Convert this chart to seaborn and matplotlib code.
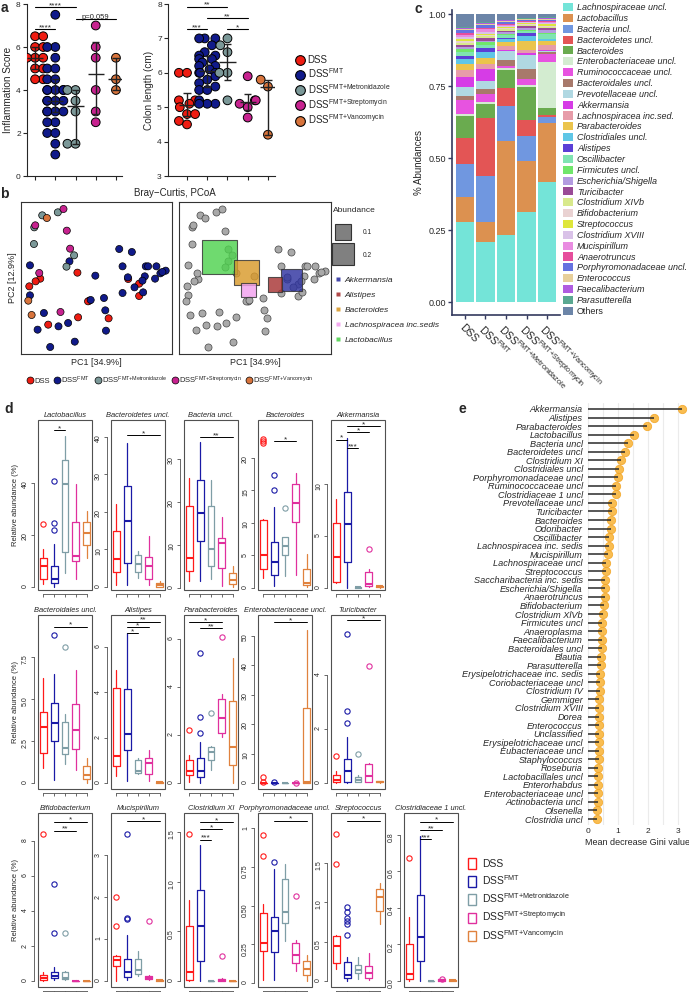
import warnings
import numpy as np
import pandas as pd
import seaborn as sns
import matplotlib.pyplot as plt
from matplotlib.lines import Line2D
from matplotlib.patches import Patch, Rectangle

warnings.filterwarnings('ignore')

# ---------------- data ----------------
group_keys = ['DSS', 'FMT', 'Metro', 'Strep', 'Vanco']
group_labels = ['DSS', r'DSS$^{\mathrm{FMT}}$', r'DSS$^{\mathrm{FMT{+}Metronidazole}}$',
                r'DSS$^{\mathrm{FMT{+}Streptomycin}}$', r'DSS$^{\mathrm{FMT{+}Vancomycin}}$']
col_a = ['#ee1c12', '#101a8a', '#7b9898', '#c7228f', '#d8743c']
col_d = ['#ff1a1a', '#1a1aa6', '#7f9ea6', '#e0309e', '#e0823e']

# panel a
infl_dss = [6.5, 6.5, 6.0, 6.0, 5.5, 5.5, 5.5, 5.0, 5.0, 4.5, 4.5]
infl_fmt = [7.5, 6.0, 6.0, 5.5, 5.0, 5.0, 4.5, 4.5, 4.0, 4.0, 4.0, 4.0, 4.0, 3.5, 3.5, 3.5,
            3.5, 3.0, 3.0, 3.0, 3.0, 2.5, 2.5, 2.0, 2.0, 1.5, 1.0]
infl_metro = [4.0, 4.0, 3.5, 3.0, 1.5, 1.5]
infl_strep = [7.0, 6.0, 5.5, 4.0, 3.0, 2.5]
infl_vanco = [5.5, 4.5, 4.0]

colon_dss = [6.0, 6.0, 5.2, 5.2, 5.1, 5.0, 4.8, 4.8, 4.6, 4.5]
colon_fmt = [7.0, 7.0, 7.0, 6.8, 6.6, 6.5, 6.5, 6.4, 6.4, 6.3, 6.2, 6.2, 6.1, 6.0, 6.0, 6.0,
             5.9, 5.8, 5.7, 5.6, 5.5, 5.5, 5.2, 5.1, 5.1, 5.1]
colon_metro = [7.0, 6.8, 6.6, 6.0, 6.0, 5.2]
colon_strep = [5.9, 5.2, 5.2, 5.1, 5.0, 4.7]
colon_vanco = [5.8, 5.6, 4.2]

# panel b (PCoA coordinates)
pc_dss = [(-0.058, 0.016), (-0.170, -0.002), (-0.184, -0.010), (-0.203, -0.025), (-0.022, -0.068),
          (-0.026, -0.070), (0.036, -0.121), (-0.056, -0.118), (-0.146, -0.140), (0.128, -0.017),
          (0.095, -0.003), (0.128, -0.054)]
pc_fmt = [(-0.201, 0.038), (-0.201, -0.052), (-0.082, 0.050), (-0.004, 0.007), (0.068, 0.087),
          (0.106, 0.078), (0.078, 0.035), (0.148, 0.035), (0.155, 0.035), (0.180, 0.035),
          (0.208, 0.022), (0.192, 0.014), (0.176, -0.002), (0.145, 0.005), (0.138, -0.008),
          (0.114, -0.028), (0.140, -0.043), (0.078, -0.045), (0.022, -0.060), (-0.018, -0.066),
          (0.026, -0.097), (0.028, -0.158), (-0.086, -0.135), (-0.115, -0.145), (-0.178, -0.155),
          (-0.159, -0.105), (-0.140, -0.207), (-0.066, -0.191), (0.198, 0.018), (0.094, 0.002)]
pc_metro = [(-0.164, 0.188), (-0.117, 0.197), (-0.188, 0.152), (-0.189, 0.102), (-0.068, 0.068),
            (-0.091, 0.034)]
pc_strep = [(-0.100, 0.207), (-0.185, 0.158), (-0.090, 0.142), (-0.080, 0.088), (-0.173, 0.015),
            (-0.109, -0.102)]
pc_vanco = [(-0.150, 0.180), (-0.206, -0.068), (-0.196, -0.111)]

genus_names = ['Lactobacillus', 'Bacteroides', 'Akkermansia', 'Alistipes', 'Lachnospiracea inc.sedis']
genus_pc1 = [-0.107, -0.026, 0.108, 0.059, -0.020]
genus_pc2 = [0.062, 0.016, -0.006, -0.020, -0.037]
genus_abund = [0.52, 0.29, 0.20, 0.095, 0.09]
genus_colors = ['#4fd24f', '#d99a2b', '#2f33a0', '#a83434', '#f2a0ee']
legend_genus = ['Akkermansia', 'Alistipes', 'Bacteroides', 'Lachnospiracea inc.sedis', 'Lactobacillus']

# panel c (relative abundances, DSS / FMT / Metro / Strep / Vanco)
taxa = ['Lachnospiraceae uncl.', 'Lactobacillus', 'Bacteria uncl.', 'Bacteroidetes uncl.', 'Bacteroides',
        'Enterobacteriaceae uncl.', 'Ruminococcaceae uncl.', 'Bacteroidales uncl.', 'Prevotellaceae uncl.',
        'Akkermansia', 'Lachnospiracea inc.sed.', 'Parabacteroides', 'Clostridiales uncl.', 'Alistipes',
        'Oscillibacter', 'Firmicutes uncl.', 'Escherichia/Shigella', 'Turicibacter', 'Clostridium XIVb',
        'Bifidobacterium', 'Streptococcus', 'Clostridium XVIII', 'Mucispirillum', 'Anaerotruncus',
        'Porphyromonadaceae uncl.', 'Enterococcus', 'Faecalibacterium', 'Parasutterella', 'Others']
taxa_colors = ['#74e4d8', '#dc9150', '#7097e0', '#e35555', '#6aab4f', '#d3ecd0', '#e753e0', '#a8796b',
               '#b0d8e2', '#d63ce6', '#e79ca9', '#ebc44c', '#5fc6e6', '#5b3fd6', '#7fe4b2', '#70e66b',
               '#b39be0', '#9a4b96', '#d8e98c', '#e9d2d2', '#dee63c', '#d9c2e8', '#e98ce1', '#e64e9c',
               '#6672e0', '#e7cf9a', '#b05ce0', '#5aa891', '#6c85a8']
abund = [
    [0.278, 0.208, 0.233, 0.314, 0.418],
    [0.087, 0.070, 0.325, 0.174, 0.202],
    [0.115, 0.160, 0.122, 0.088, 0.023],
    [0.090, 0.200, 0.064, 0.056, 0.006],
    [0.075, 0.050, 0.062, 0.115, 0.023],
    [0.008, 0.005, 0.005, 0.006, 0.162],
    [0.050, 0.030, 0.010, 0.023, 0.028],
    [0.012, 0.015, 0.020, 0.034, 0.005],
    [0.030, 0.030, 0.030, 0.047, 0.005],
    [0.035, 0.040, 0.005, 0.008, 0.002],
    [0.025, 0.020, 0.012, 0.010, 0.020],
    [0.020, 0.020, 0.015, 0.030, 0.013],
    [0.020, 0.020, 0.010, 0.020, 0.005],
    [0.010, 0.015, 0.005, 0.008, 0.003],
    [0.012, 0.010, 0.008, 0.008, 0.015],
    [0.010, 0.010, 0.006, 0.005, 0.005],
    [0.008, 0.005, 0.005, 0.005, 0.010],
    [0.006, 0.008, 0.005, 0.006, 0.005],
    [0.008, 0.006, 0.005, 0.004, 0.005],
    [0.006, 0.005, 0.005, 0.003, 0.003],
    [0.008, 0.005, 0.004, 0.004, 0.008],
    [0.006, 0.005, 0.004, 0.003, 0.003],
    [0.008, 0.010, 0.003, 0.003, 0.003],
    [0.008, 0.006, 0.004, 0.003, 0.003],
    [0.008, 0.010, 0.005, 0.003, 0.003],
    [0.004, 0.003, 0.003, 0.002, 0.006],
    [0.004, 0.004, 0.003, 0.002, 0.002],
    [0.004, 0.004, 0.003, 0.002, 0.002],
    [0.045, 0.026, 0.019, 0.014, 0.012],
]

# panel d: five-number summaries [whislo, q1, med, q3, whishi] per group and outliers
lactobacillus = [[1, 3, 8, 11, 14.5], [0, 1.5, 3, 8, 16.5], [5.5, 13.5, 39.5, 48.5, 58],
                 [3, 10, 12, 25, 39.5], [11, 16, 20.5, 25, 29]]
lactobacillus_out = [[24], [40.5, 24.5, 22], [], [], []]
bacteroidetes_uncl = [[0.5, 4, 7.5, 15, 22], [0.5, 6.5, 17.5, 27, 38.5], [2.5, 4, 6, 8.5, 9.5],
                      [0.5, 2, 5.5, 8, 13.5], [0, 0.1, 0.4, 1.0, 1.5]]
bacteroidetes_uncl_out = [[], [], [], [], []]
bacteria_uncl = [[1.5, 4, 7, 19, 25.5], [1.5, 11, 17.5, 25, 34], [2, 5, 9, 19, 25],
                 [0.5, 4.5, 10.5, 11.5, 16.5], [0.3, 1, 1.8, 3.5, 5]]
bacteria_uncl_out = [[], [], [], [], []]
bacteroides = [[1.5, 3, 5, 10.5, 10.6], [0.3, 2, 4, 7, 12.5], [1.8, 5, 6.5, 7.8, 7.9],
               [2, 10.2, 13, 16, 17.6], [0.2, 0.5, 0.8, 3, 5.2]]
bacteroides_out = [[22.3, 22.6, 22.9], [17.4, 15.0], [12.3], [], []]
akkermansia = [[0.5, 0.6, 3, 6.3, 8.6], [0, 2.5, 6.2, 9.3, 14.5], [0, 0, 0.05, 0.1, 0.1],
               [0.05, 0.2, 0.4, 1.5, 1.8], [0, 0.1, 0.15, 0.2, 0.25]]
akkermansia_out = [[], [], [], [3.8], []]
bacteroidales_uncl = [[0.9, 1.8, 3.35, 4.25, 6.25], [0.2, 2.5, 3.55, 4.75, 6.5], [1.1, 1.7, 2.1, 3.6, 4.1],
                      [0.8, 2.0, 3.15, 4.7, 6.7], [0, 0.25, 0.5, 1.0, 1.5]]
bacteroidales_uncl_out = [[], [8.8], [8.1], [], []]
alistipes = [[0.3, 0.75, 1.2, 4.2, 5.0], [0.1, 1.45, 2.15, 4.15, 6.6], [0.4, 0.45, 0.55, 1.0, 1.1],
             [0.1, 0.4, 0.9, 1.1, 1.45], [0, 0.02, 0.04, 0.06, 0.08]]
alistipes_out = [[], [], [], [], []]
parabacteroides = [[0.05, 0.35, 0.5, 0.95, 1.15], [0, 0.25, 0.5, 1.05, 1.7], [0.55, 0.95, 1.3, 1.5, 1.55],
                   [1.9, 2.1, 2.7, 3.5, 3.7], [0, 0.75, 1.5, 3.4, 5.2]]
parabacteroides_out = [[2.2], [5.4, 2.75, 2.1], [2.9], [6.1], []]
enterobacteriaceae_uncl = [[0, 0, 0, 0, 0], [0, 0, 0, 0, 0], [0, 0, 0, 0, 0], [0, 0, 0, 0, 0],
                           [0, 0.05, 0.3, 25.3, 52]]
enterobacteriaceae_uncl_out = [[2.0, 0.4], [0.3], [], [0.2], []]
turicibacter = [[0, 0.05, 0.1, 0.3, 0.45], [0, 0.05, 0.44, 0.9, 1.7], [0.02, 0.05, 0.12, 0.22, 0.3],
                [0.04, 0.05, 0.26, 0.7, 0.75], [0, 0.02, 0.04, 0.06, 0.08]]
turicibacter_out = [[1.0], [5.5, 2.65, 2.2], [1.07], [4.3], []]
bifidobacterium = [[0, 0.05, 0.15, 0.35, 0.5], [0.05, 0.15, 0.3, 0.5, 0.8], [0.05, 0.1, 0.2, 0.5, 0.6],
                   [0, 0, 0, 0.02, 0.05], [0, 0, 0, 0.01, 0.02]]
bifidobacterium_out = [[8.4], [5.55, 2.75], [2.75], [], []]
mucispirillum = [[0, 0.35, 0.5, 0.6, 0.62], [0.02, 0.1, 0.22, 0.52, 1.1], [0.12, 0.18, 0.26, 0.52, 0.72],
                 [0.03, 0.05, 0.07, 0.12, 0.14], [0, 0.01, 0.02, 0.03, 0.04]]
mucispirillum_out = [[2.0, 1.3], [3.5, 1.5, 1.47], [], [1.43], []]
clostridium_xi = [[0, 0.01, 0.09, 0.55, 0.82], [0, 0.2, 0.55, 0.92, 1.37], [0, 0, 0, 0, 0],
                  [0, 0.005, 0.01, 0.02, 0.03], [0, 0, 0.003, 0.005, 0.006]]
clostridium_xi_out = [[1.48], [], [], [0.25], []]
porphyromonadaceae_uncl = [[0.02, 0.21, 0.26, 0.45, 0.51], [0.02, 0.2, 0.335, 0.43, 0.74],
                           [0.27, 0.39, 0.46, 0.67, 0.77], [0.08, 0.13, 0.18, 0.26, 0.28],
                           [0.01, 0.05, 0.09, 0.14, 0.18]]
porphyromonadaceae_uncl_out = [[0.96, 0.82], [0.78], [], [0.56], []]
streptococcus = [[0.15, 0.23, 0.45, 0.57, 0.58], [0, 0.04, 0.08, 0.24, 0.3], [0.03, 0.1, 0.14, 0.2, 0.3],
                 [0.01, 0.04, 0.1, 0.19, 0.35], [0.72, 0.89, 1.06, 1.17, 1.24]]
streptococcus_out = [[1.86, 1.48], [0.94, 0.88, 0.8, 0.76, 0.72, 0.58], [], [], []]
clostridiaceae_1_uncl = [[0, 0.01, 0.04, 0.2, 0.35], [0, 0.11, 0.24, 0.47, 0.79], [0, 0, 0, 0, 0],
                         [0, 0.002, 0.005, 0.01, 0.012], [0, 0.002, 0.004, 0.006, 0.007]]
clostridiaceae_1_uncl_out = [[0.67], [], [], [0.012], []]

# significance bars: (group from, group to, height, label)
lactobacillus_sig = [(2, 3, 60, '*')]
bacteroidetes_uncl_sig = [(2, 5, 40.5, '*')]
bacteria_uncl_sig = [(2, 5, 35, '**')]
bacteroides_sig = [(2, 4, 22.5, '*')]
akkermansia_sig = [(2, 5, 15.6, '*'), (2, 4, 15.0, '*'), (1, 2, 14.3, '*'), (2, 3, 13.5, '***')]
bacteroidales_uncl_sig = [(2, 5, 9.3, '*')]
alistipes_sig = [(2, 5, 7.1, '**'), (2, 4, 6.85, '*'), (2, 3, 6.6, '*')]
parabacteroides_sig = [(1, 4, 6.7, '*'), (2, 4, 6.45, '**')]
enterobacteriaceae_uncl_sig = [(2, 5, 54.5, '*')]
turicibacter_sig = [(2, 5, 6.0, '*')]
bifidobacterium_sig = [(2, 5, 9.1, '*'), (2, 4, 8.6, '**')]
mucispirillum_sig = [(2, 5, 3.8, '*')]
clostridium_xi_sig = [(2, 5, 1.6, '*'), (2, 4, 1.53, '*'), (2, 3, 1.42, '***')]
porphyromonadaceae_uncl_sig = [(2, 5, 1.05, '*')]
streptococcus_sig = [(2, 5, 2.03, '*')]
clostridiaceae_1_uncl_sig = [(2, 5, 0.87, '*'), (2, 4, 0.825, '**'), (2, 3, 0.775, '***')]

# panel e
gini_taxa = ['Akkermansia', 'Alistipes', 'Parabacteroides', 'Lactobacillus', 'Bacteria uncl',
             'Bacteroidetes uncl', 'Clostridium XI', 'Clostridiales uncl', 'Porphyromonadaceae uncl',
             'Ruminococcaceae uncl', 'Clostridiaceae 1 uncl', 'Prevotellaceae uncl', 'Turicibacter',
             'Bacteroides', 'Odoribacter', 'Oscillibacter', 'Lachnospiracea inc. sedis', 'Mucispirillum',
             'Lachnospiraceae uncl', 'Streptococcus', 'Saccharibacteria inc. sedis', 'Escherichia/Shigella',
             'Anaerotruncus', 'Bifidobacterium', 'Clostridium XlVb', 'Firmicutes uncl', 'Anaeroplasma',
             'Faecalibacterium', 'Bacteroidales uncl', 'Blautia', 'Parasutterella',
             'Erysipelotrichaceae inc. sedis', 'Coriobacteriaceae uncl', 'Clostridium IV', 'Gemmiger',
             'Clostridium XVIII', 'Dorea', 'Enterococcus', 'Unclassified', 'Erysipelotrichaceae uncl',
             'Eubacteriaceae uncl', 'Staphylococcus', 'Roseburia', 'Lactobacillales uncl', 'Enterorhabdus',
             'Enterobacteriaceae uncl', 'Actinobacteria uncl', 'Olsenella', 'Clostridia uncl']
gini = [3.13, 2.2, 1.97, 1.53, 1.34, 1.23, 1.09, 1.04, 1.0, 0.94, 0.92, 0.8, 0.79, 0.78, 0.77, 0.7,
        0.69, 0.68, 0.61, 0.6, 0.57, 0.56, 0.55, 0.53, 0.5, 0.48, 0.47, 0.45, 0.45, 0.44, 0.42, 0.41,
        0.4, 0.4, 0.38, 0.38, 0.37, 0.37, 0.36, 0.36, 0.35, 0.35, 0.34, 0.34, 0.33, 0.32, 0.32, 0.31, 0.3]

# ---------------- figure ----------------
sns.set_theme(style='white')
plt.rcParams['font.family'] = ['Liberation Sans', 'DejaVu Sans']
plt.rcParams['mathtext.fontset'] = 'custom'
plt.rcParams['mathtext.rm'] = 'Liberation Sans'
plt.rcParams['mathtext.it'] = 'Liberation Sans:italic'
plt.rcParams['axes.linewidth'] = 0.8

W, H = 689, 992
fig = plt.figure(figsize=(W / 100, H / 100), dpi=100)


def px_axes(x0, y0, x1, y1):
    return fig.add_axes([x0 / W, 1 - y1 / H, (x1 - x0) / W, (y1 - y0) / H])


def fx(x):
    return x / W


def fy(y):
    return 1 - y / H


def sig_bar(ax, x1, x2, y, text, fs, lw=0.8):
    ax.plot([x1, x2], [y, y], color='black', lw=lw, clip_on=False, zorder=5)
    ax.text((x1 + x2) / 2, y, text, ha='center', va='baseline', fontsize=fs, clip_on=False, zorder=5)


# ---- panel a ----
def dot_panel(ax, values, ylim, yticks, ylabel):
    df = pd.DataFrame({'group': [g for g, v in zip(group_keys, values) for _ in v],
                       'value': [x for v in values for x in v]})
    sns.swarmplot(data=df, x='group', y='value', hue='group', order=group_keys, hue_order=group_keys,
                  palette=col_a, size=6.3, edgecolor='black', linewidth=0.7, legend=False, ax=ax)
    for i, v in enumerate(values):
        med = np.median(v)
        q1, q3 = np.quantile(v, [0.25, 0.75], method='weibull')
        ax.hlines(med, i - 0.4, i + 0.4, color='#222222', lw=1.0, zorder=6)
        ax.vlines(i, q1, q3, color='#222222', lw=1.0, zorder=6)
        ax.hlines([q1, q3], i - 0.18, i + 0.18, color='#222222', lw=1.0, zorder=6)
    ax.set_ylim(*ylim)
    ax.set_yticks(yticks)
    ax.set_xticks(range(5))
    ax.set_xticklabels([])
    ax.set_xlabel('')
    ax.set_ylabel(ylabel, fontsize=7.2, labelpad=2)
    ax.tick_params(axis='both', direction='out', length=3, width=0.8, labelsize=6, pad=1.5,
                   left=True, bottom=True)
    sns.despine(ax=ax)


ax_a1 = px_axes(27, 4, 122, 176)
dot_panel(ax_a1, [infl_dss, infl_fmt, infl_metro, infl_strep, infl_vanco], (0, 8), range(0, 9, 2),
          'Inflammation Score')
ax_a1.set_xlim(-0.4, 4.3)
sig_bar(ax_a1, 0, 2, 7.86, '****', 6)
sig_bar(ax_a1, 0, 1, 6.84, '****', 6)
sig_bar(ax_a1, 2, 4, 7.3, 'p=0.059', 5.5)

ax_a2 = px_axes(168, 4, 275, 176)
dot_panel(ax_a2, [colon_dss, colon_fmt, colon_metro, colon_strep, colon_vanco], (3, 8), range(3, 9),
          'Colon length (cm)')
ax_a2.set_xlim(-0.94, 4.35)
sig_bar(ax_a2, 0, 2, 7.92, '**', 6)
sig_bar(ax_a2, 0, 1, 7.27, '***', 6)
sig_bar(ax_a2, 1, 3, 7.59, '**', 6)
sig_bar(ax_a2, 2, 3, 7.27, '*', 6)

handles_a = [Line2D([], [], ls='', marker='o', ms=7, mfc=c, mec='black', mew=0.8) for c in col_a]
fig.legend(handles_a, group_labels, loc='upper left', bbox_to_anchor=(fx(294), fy(55)), frameon=False,
           fontsize=7, handletextpad=0.2, labelspacing=0.15, borderpad=0, borderaxespad=0,
           handlelength=1.2)

# ---- panel b ----
pc_groups = [pc_dss, pc_fmt, pc_metro, pc_strep, pc_vanco]
df_pc = pd.DataFrame({'group': [g for g, pts in zip(group_keys, pc_groups) for _ in pts],
                      'pc1': [p[0] for pts in pc_groups for p in pts],
                      'pc2': [p[1] for pts in pc_groups for p in pts]})

ax_b1 = px_axes(21, 202, 172, 354)
ax_b2 = px_axes(179, 202, 331, 354)
sns.scatterplot(data=df_pc, x='pc1', y='pc2', hue='group', hue_order=group_keys, palette=col_a, s=26,
                edgecolor='black', linewidth=0.5, legend=False, ax=ax_b1)
sns.scatterplot(data=df_pc, x='pc1', y='pc2', color='#a9a9a9', s=26, edgecolor='#444444', linewidth=0.5,
                legend=False, ax=ax_b2)
ax_b2.scatter(genus_pc1, genus_pc2, s=np.array(genus_abund) * 1170, marker='s', c=genus_colors,
              alpha=0.82, edgecolors='#333333', linewidths=0.8, zorder=4)
for ax in (ax_b1, ax_b2):
    ax.set_xlim(-0.228, 0.227)
    ax.set_ylim(-0.228, 0.228)
    ax.set_xticks([])
    ax.set_yticks([])
    ax.set_xlabel('PC1 [34.9%]', fontsize=6.5, labelpad=3)
    for sp in ax.spines.values():
        sp.set_color('#333333')
        sp.set_linewidth(0.8)
ax_b1.set_ylabel('PC2 [12.9%]', fontsize=6.5, labelpad=3)
ax_b2.set_ylabel('')
fig.text(fx(175), fy(193), 'Bray\u2212Curtis, PCoA', ha='center', va='center', fontsize=7)

size_handles = [Line2D([], [], ls='', marker='s', ms=np.sqrt(a * 1170), mfc='#808080', mec='#333333',
                       mew=0.8) for a in (0.1, 0.2)]
leg_size = fig.legend(size_handles, ['0.1', '0.2'], loc='upper left', bbox_to_anchor=(fx(333), fy(207)),
                      frameon=False, fontsize=4.8, title='Abundance', title_fontsize=6,
                      handletextpad=1.5, labelspacing=2.3, borderpad=0, borderaxespad=0, handlelength=3.0)
leg_size._legend_box.align = 'left'
genus_handles = [Line2D([], [], ls='', marker='s', ms=3.5, mfc=genus_colors[genus_names.index(g)],
                        mec='none', alpha=0.9) for g in legend_genus]
fig.legend(genus_handles, legend_genus, loc='upper left', bbox_to_anchor=(fx(334), fy(276)), frameon=False,
           prop={'size': 6, 'style': 'italic'}, handletextpad=0.3, labelspacing=0.85, borderpad=0,
           borderaxespad=0, handlelength=1.0)

handles_b = [Line2D([], [], ls='', marker='o', ms=5, mfc=c, mec='black', mew=0.5) for c in col_a]
fig.legend(handles_b, group_labels, loc='center left', bbox_to_anchor=(fx(26), fy(380)), frameon=False,
           fontsize=5.5, ncol=5, handletextpad=0.05, columnspacing=0.5, borderpad=0, borderaxespad=0,
           handlelength=1.0)

# ---- panel c ----
ax_c = px_axes(452, 10, 560, 315)
bottom = np.zeros(5)
for name, vals, c in zip(taxa, abund, taxa_colors):
    ax_c.bar(range(5), vals, bottom=bottom, width=0.9, color=c, linewidth=0, label=name)
    bottom += np.array(vals)
ax_c.set_xlim(-0.62, 4.62)
ax_c.set_ylim(-0.045, 1.014)
ax_c.set_yticks([0, 0.25, 0.5, 0.75, 1.0])
ax_c.set_yticklabels(['0.00', '0.25', '0.50', '0.75', '1.00'])
ax_c.set_xticks(range(5))
ax_c.set_xticklabels(group_labels, rotation=-45, ha='left', va='top', rotation_mode='anchor', fontsize=7.5)
ax_c.set_ylabel('% Abundances', fontsize=7, labelpad=3)
ax_c.tick_params(axis='y', labelsize=6.5, length=3, width=1, pad=1.5, left=True, color='#33395e')
ax_c.tick_params(axis='x', length=3, width=1, pad=2, bottom=True, color='#33395e')
sns.despine(ax=ax_c)
for sp in ('left', 'bottom'):
    ax_c.spines[sp].set_color('#33395e')
    ax_c.spines[sp].set_linewidth(1.2)

handles_c = [Patch(facecolor=c, edgecolor='none') for c in taxa_colors]
leg_c = fig.legend(handles_c, taxa, loc='upper left', bbox_to_anchor=(fx(563), fy(3)), frameon=False,
                   prop={'size': 6.5, 'style': 'italic'}, handlelength=1.15, handleheight=1.0,
                   labelspacing=0.19, handletextpad=0.4, borderpad=0, borderaxespad=0)
for t in leg_c.get_texts():
    if t.get_text() == 'Others':
        t.set_style('normal')

# ---- panel d ----
d_cols = [38, 111, 184, 258, 331, 404]
d_rows = [(420, 590), (615, 789), (813, 987)]
d_panels = [
    ('Lactobacillus', lactobacillus, lactobacillus_out, lactobacillus_sig, (-1.2, 64), [0, 20, 40], None),
    ('Bacteroidetes uncl.', bacteroidetes_uncl, bacteroidetes_uncl_out, bacteroidetes_uncl_sig, (-0.8, 44.5),
     [0, 10, 20, 30, 40], None),
    ('Bacteria uncl.', bacteria_uncl, bacteria_uncl_out, bacteria_uncl_sig, (-0.5, 39), [0, 10, 20, 30], None),
    ('Bacteroides', bacteroides, bacteroides_out, bacteroides_sig, (-0.3, 25.8), [0, 5, 10, 15, 20], None),
    ('Akkermansia', akkermansia, akkermansia_out, akkermansia_sig, (-0.2, 16.2), [0, 5, 10], None),
    ('Bacteroidales uncl.', bacteroidales_uncl, bacteroidales_uncl_out, bacteroidales_uncl_sig, (-0.36, 10.0),
     [0, 2.5, 5.0, 7.5], ['0', '2.5', '5.0', '7.5']),
    ('Alistipes', alistipes, alistipes_out, alistipes_sig, (-0.26, 7.4), [0, 2, 4, 6], None),
    ('Parabacteroides', parabacteroides, parabacteroides_out, parabacteroides_sig, (-0.25, 7.0), [0, 2, 4, 6],
     None),
    ('Enterobacteriaceae uncl.', enterobacteriaceae_uncl, enterobacteriaceae_uncl_out,
     enterobacteriaceae_uncl_sig, (-2.0, 57), [0, 10, 20, 30, 40, 50], None),
    ('Turicibacter', turicibacter, turicibacter_out, turicibacter_sig, (-0.22, 6.2), [0, 2, 4], None),
    ('Bifidobacterium', bifidobacterium, bifidobacterium_out, bifidobacterium_sig, (-0.34, 9.6),
     [0, 2, 4, 6, 8], None),
    ('Mucispirillum', mucispirillum, mucispirillum_out, mucispirillum_sig, (-0.14, 4.0), [0, 1, 2, 3], None),
    ('Clostridium XI', clostridium_xi, clostridium_xi_out, clostridium_xi_sig, (-0.06, 1.69),
     [0, 0.5, 1.0, 1.5], ['0', '0.5', '1.0', '1.5']),
    ('Porphyromonadaceae uncl.', porphyromonadaceae_uncl, porphyromonadaceae_uncl_out,
     porphyromonadaceae_uncl_sig, (-0.026, 1.10), [0, 0.25, 0.5, 0.75, 1], ['0', '0.25', '0.50', '0.75', '1']),
    ('Streptococcus', streptococcus, streptococcus_out, streptococcus_sig, (-0.076, 2.13), [0, 0.5, 1.0, 1.5],
     ['0', '0.5', '1.0', '1.5']),
    ('Clostridiaceae 1 uncl.', clostridiaceae_1_uncl, clostridiaceae_1_uncl_out, clostridiaceae_1_uncl_sig,
     (-0.033, 0.918), [0, 0.2, 0.4, 0.6, 0.8], None),
]
d_layout = [(0, c) for c in range(5)] + [(1, c) for c in range(5)] + [(2, c) for c in range(6)]

frame_col = '#505050'
for (title, summ, outs, sigs, ylim, yticks, ylabs), (r, c) in zip(d_panels, d_layout):
    y0, y1 = d_rows[r]
    x0 = d_cols[c]
    ax = px_axes(x0, y0, x0 + 54, y1)
    stats = [dict(whislo=s[0], q1=s[1], med=s[2], q3=s[3], whishi=s[4], fliers=o) for s, o in zip(summ, outs)]
    art = ax.bxp(stats, positions=[1, 2, 3, 4, 5], widths=0.62, showcaps=False,
                 boxprops=dict(lw=0.9), whiskerprops=dict(lw=0.9), medianprops=dict(lw=1.5),
                 flierprops=dict(marker='o', ms=3.8, mfc='none', mew=0.8))
    for i, col in enumerate(col_d):
        art['boxes'][i].set_color(col)
        art['medians'][i].set_color(col)
        for w in art['whiskers'][2 * i:2 * i + 2]:
            w.set_color(col)
        art['fliers'][i].set_markeredgecolor(col)
    ax.set_xlim(0.5, 5.5)
    ax.set_ylim(*ylim)
    ax.set_xticks([1, 2, 3, 4, 5])
    ax.set_xticklabels([])
    ax.set_yticks(yticks)
    if ylabs is not None:
        ax.set_yticklabels(ylabs)
    ax.tick_params(axis='y', labelrotation=90, labelsize=5, length=2.5, width=0.6, pad=1, left=True,
                   color=frame_col)
    ax.tick_params(axis='x', length=2.5, width=0.6, bottom=True, color=frame_col)
    for lbl in ax.get_yticklabels():
        lbl.set_va('center')
    ax.spines['top'].set_visible(False)
    ax.spines['right'].set_visible(False)
    ax.spines['left'].set_position(('outward', 3))
    ax.spines['bottom'].set_position(('outward', 3))
    ax.spines['left'].set_bounds(yticks[0], yticks[-1])
    ax.spines['bottom'].set_bounds(1, 5)
    for sp in ('left', 'bottom'):
        ax.spines[sp].set_color(frame_col)
        ax.spines[sp].set_linewidth(0.6)
    ax.add_patch(Rectangle((0, 0), 1, 1, transform=ax.transAxes, fill=False, ec=frame_col, lw=0.8,
                           clip_on=False))
    ax.set_title(title, fontsize=5.4, style='italic', pad=2.5)
    for a, b, y, t in sigs:
        sig_bar(ax, a, b, y, t, 6, lw=0.7)
    if c == 0:
        ax.set_ylabel('Relative abundance (%)', fontsize=5.5, labelpad=2)

handles_d = [Patch(facecolor='white', edgecolor=c, lw=1.0) for c in col_d]
fig.legend(handles_d, group_labels, loc='upper left', bbox_to_anchor=(fx(468), fy(858)), frameon=False,
           fontsize=7.5, handlelength=0.75, handleheight=1.2, handletextpad=0.6, labelspacing=0.42,
           borderpad=0, borderaxespad=0)

# ---- panel e ----
ax_e = px_axes(587, 403, 688, 825)
df_e = pd.DataFrame({'taxon': gini_taxa, 'gini': gini, 'pos': range(len(gini_taxa))})
ax_e.set_xticks([0, 1, 2, 3])
ax_e.set_xticks([0.5, 1.5, 2.5], minor=True)
ax_e.grid(axis='x', which='both', color='#ebebeb', lw=0.8)
ax_e.set_axisbelow(True)
sns.scatterplot(data=df_e, x='gini', y='pos', color='#f9b233', s=36, alpha=0.85, edgecolor='#f2a422',
                linewidth=0.6, legend=False, ax=ax_e, zorder=3)
ax_e.hlines(df_e['pos'], 0, df_e['gini'], color='#2a2a2a', lw=1.1, zorder=4)
ax_e.set_xlim(-0.033, 3.33)
ax_e.set_ylim(len(gini_taxa) - 0.3, -0.7)
ax_e.set_yticks(df_e['pos'])
ax_e.set_yticklabels(gini_taxa, style='italic', fontsize=6.6)
ax_e.tick_params(axis='y', length=0, pad=3)
ax_e.tick_params(axis='x', length=0, labelsize=6, pad=2)
ax_e.set_xlabel('Mean decrease Gini value', fontsize=6.5, labelpad=2)
ax_e.set_ylabel('')
sns.despine(ax=ax_e, left=True, bottom=True)

# ---- panel letters ----
for letter, x, y in [('a', 4, 8), ('b', 4, 194), ('c', 418, 9), ('d', 9, 409), ('e', 462, 409)]:
    fig.text(fx(x), fy(y), letter, fontsize=10, fontweight='bold', ha='center', va='center')

fig.savefig('out.png', dpi=100)
